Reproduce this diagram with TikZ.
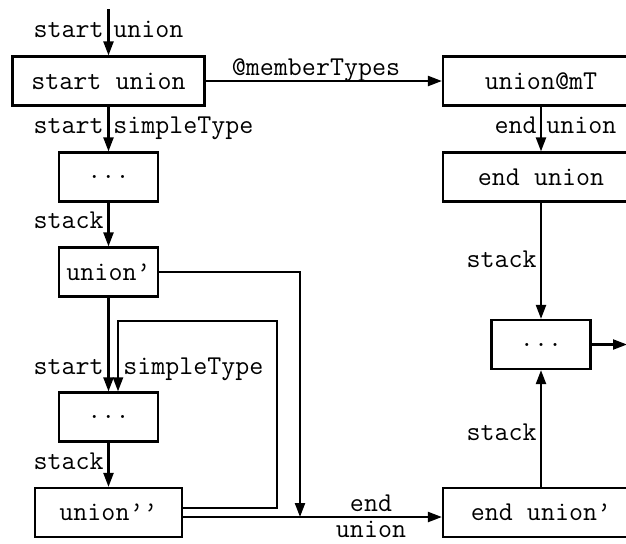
\documentclass[tikz,border=0pt]{standalone}
\usetikzlibrary{arrows.meta}
\newcommand{\ttm}{\fontsize{13.6}{15}\selectfont\ttfamily}
\tikzset{
  box/.style={draw, line width=1.1pt, inner sep=0pt, minimum height=24.5pt, font=\ttm},
  lbl/.style={inner sep=0pt, font=\ttm},
  conn/.style={line width=1.1pt, -{Triangle[length=7pt,width=5pt]}},
}
\begin{document}
\begin{tikzpicture}[x=0.5pt,y=-0.5pt]
\useasboundingbox (0,0) rectangle (626,543);
\clip (0,0) rectangle (626,543);

% left column
\node[box, minimum width=96pt] (su) at (108.5,81) {start union};
\node[box, minimum width=49.5pt] (d1) at (108.5,177) {...};
\node[box, minimum width=49.5pt] (u1) at (108.5,272) {union’};
\node[box, minimum width=49.5pt] (d2) at (108.5,417) {...};
\node[box, minimum width=73.5pt] (u2) at (108.5,512.5) {union’’};

% right column
\node[box, minimum width=98pt] (mt) at (541,81) {union@mT};
\node[box, minimum width=98pt] (eu) at (541,177) {end union};
\node[box, minimum width=49.5pt] (d3) at (541,344.5) {...};
\node[box, minimum width=98pt] (eu2) at (541,512.5) {end union’};

% free ends and bends
\coordinate (in) at (108.5,9);
\coordinate (out) at (627,344.5);
\coordinate (j) at (300,517);
\coordinate (loop) at (277,321);

% connectors
\draw[conn] (in) -- (su.north);
\draw[conn] (su) -- (d1);
\draw[conn] (d1) -- (u1);
\draw[conn] (u1) -- (d2);
\draw[conn] (d2) -- (u2);
\draw[conn] ([yshift=2.25pt]u2.east) -| (loop) -| ([xshift=4.75pt]d2.north);
\draw[conn] ([yshift=-2.25pt]u2.east) -- ([yshift=-2.25pt]eu2.west);
\draw[conn] (u1.east) -| (j);
\draw[conn] (su) -- (mt);
\draw[conn] (mt) -- (eu);
\draw[conn] (eu) -- (d3);
\draw[conn] (eu2) -- (d3);
\draw[conn] (d3) -- (out);

% labels
\node[lbl, anchor=base east] (l1a) at (104,37) {start};
\node[lbl, anchor=base west] (l1b) at (113,37) {union};
\node[lbl, anchor=base east] (l2a) at (104,133) {start};
\node[lbl, anchor=base west] (l2b) at (113,133) {simpleType};
\node[lbl, anchor=base east] (l3) at (104,228) {stack};
\node[lbl, anchor=base east] (l4a) at (104,374) {start};
\node[lbl, anchor=base west] (l4b) at (123,374) {simpleType};
\node[lbl, anchor=base east] (l5) at (104,469) {stack};
\node[lbl, anchor=base] (l6a) at (371,511) {end};
\node[lbl, anchor=base] (l6b) at (371,537) {union};
\node[lbl, anchor=base] (l7) at (316,75) {@memberTypes};
\node[lbl, anchor=base east] (l8a) at (537,133) {end};
\node[lbl, anchor=base west] (l8b) at (546,133) {union};
\node[lbl, anchor=base east] (l9) at (537,267) {stack};
\node[lbl, anchor=base east] (l10) at (537,440) {stack};
\end{tikzpicture}
\end{document}
